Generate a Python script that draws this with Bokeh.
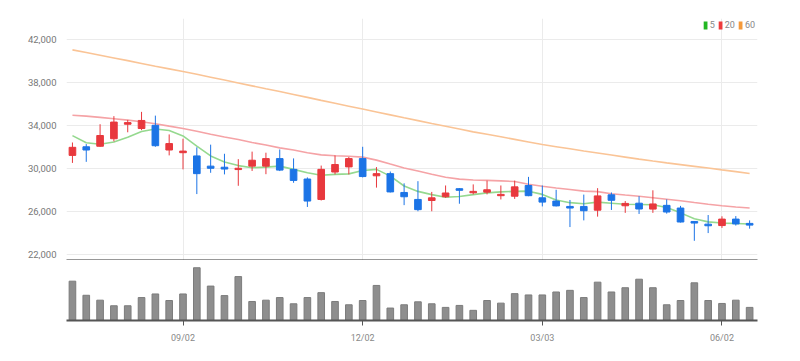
import pandas as pd
from bokeh.plotting import figure
from bokeh.models import (ColumnDataSource, FixedTicker, Range1d, Legend, LegendItem,
                          NumeralTickFormatter)
from bokeh.layouts import column
from bokeh.embed import file_html
from bokeh.resources import INLINE

# ---------------- data (weekly candles) ----------------
dates = pd.date_range("2024-07-08", periods=50, freq="W-MON")
tick_idx = [8, 21, 34, 47]
y_ticks = [22000, 26000, 30000, 34000, 38000, 42000]

open_ = [31250, 32050, 32100, 32800, 34150, 33750, 34050, 31750, 31500, 31200,
         30250, 30150, 29930, 30250, 30250, 30950, 29950, 29050, 27150, 29700,
         30180, 30950, 29350, 29550, 27800, 27150, 27050, 27400, 28150, 27770,
         27830, 27500, 27450, 28450, 27300, 27000, 26500, 26500, 26150, 27580,
         26560, 26800, 26250, 26600, 26350, 25100, 24850, 24720, 25320, 24920]
close = [32000, 31750, 33100, 34350, 34300, 34500, 32150, 32350, 31650, 29550,
         30050, 29980, 30050, 30800, 30950, 29880, 28920, 27000, 29950, 30400,
         30950, 29280, 29550, 27850, 27400, 26200, 27300, 27750, 28000, 27900,
         28050, 27620, 28320, 27500, 26900, 26550, 26350, 26100, 27480, 27070,
         26780, 26260, 26730, 25980, 25050, 24950, 24700, 25320, 24870, 24760]
high = [32450, 32300, 34150, 34900, 34550, 35300, 34950, 33200, 32800, 32000,
        32250, 31400, 30900, 31600, 31500, 31800, 30970, 29200, 30300, 31250,
        31100, 32050, 30160, 29750, 28650, 28850, 27850, 28450, 28200, 28550,
        28900, 28450, 28900, 29250, 28450, 28050, 27100, 27600, 28200, 27800,
        27000, 27450, 28000, 27150, 26550, 25120, 25700, 25580, 25600, 25200]
low = [30550, 30650, 32050, 32550, 33400, 33600, 32050, 31250, 29950, 27650,
       29630, 29480, 28420, 29800, 29500, 29790, 28700, 26450, 27050, 29480,
       29480, 29200, 28250, 27800, 26620, 26050, 26050, 27300, 26750, 27620,
       27620, 27150, 27200, 27450, 26500, 26500, 24580, 25200, 25550, 26170,
       25900, 25800, 25900, 25830, 25000, 23300, 24020, 24500, 24720, 24430]
volume = [120, 77, 62, 45, 45, 70, 81, 61, 81, 161,
          105, 76, 134, 58, 62, 70, 51, 70, 85, 58,
          48, 61, 107, 38, 48, 57, 51, 40, 46, 31,
          61, 53, 82, 78, 78, 87, 92, 70, 117, 87,
          100, 126, 100, 48, 61, 115, 61, 52, 62, 40]

ma5 = [33090, 32430, 32280, 32500, 32930, 33470, 33710, 33560, 33060, 32120,
       31200, 30640, 30300, 30100, 30160, 30250, 29950, 29630, 29400, 29480,
       29530, 29850, 29950, 29320, 28400, 27900, 27600, 27350, 27420, 27600,
       27760, 27850, 27900, 27920, 27620, 27100, 26850, 26750, 26900, 26800,
       26700, 26680, 26650, 26400, 25900, 25350, 25060, 24950, 24910, 24870]
ma20 = [34990, 34900, 34790, 34660, 34530, 34380, 34200, 33970, 33760, 33500,
        33220, 32960, 32730, 32450, 32210, 31950, 31750, 31490, 31300, 31220,
        31170, 31090, 30810, 30440, 30080, 29790, 29500, 29220, 29040, 28960,
        28920, 28880, 28820, 28570, 28380, 28220, 28080, 27920, 27880, 27680,
        27560, 27450, 27310, 27170, 27030, 26860, 26700, 26560, 26440, 26350]
ma60 = [41070, 40820, 40570, 40320, 40070, 39810, 39550, 39300, 39050, 38800,
        38530, 38260, 37990, 37720, 37450, 37190, 36920, 36650, 36370, 36100,
        35830, 35560, 35290, 35020, 34750, 34485, 34220, 33960, 33700, 33440,
        33210, 32980, 32740, 32500, 32260, 32060, 31860, 31660, 31470, 31280,
        31090, 30900, 30720, 30550, 30390, 30230, 30070, 29900, 29740, 29570]

# ---------------- styling ----------------
RED = "#e8383d"
BLUE = "#1c74e6"
FONT = "Roboto"

x = list(range(len(open_)))
colors = [RED if c >= o else BLUE for o, c in zip(open_, close)]
src = ColumnDataSource(dict(
    x=x, high=high, low=low,
    top=[max(o, c) for o, c in zip(open_, close)],
    bottom=[min(o, c) for o, c in zip(open_, close)],
    color=colors, vol=volume,
))

xr = Range1d(-0.43, 49.57)

p1 = figure(width=792, height=260, x_range=xr, y_range=Range1d(21467, 43990),
            output_backend="svg", toolbar_location=None,
            min_border_left=66, min_border_right=35, min_border_top=18, min_border_bottom=0)
p1.outline_line_color = None

p1.line(x, ma60, color="#fac496", line_width=1.6)
p1.line(x, ma20, color="#f5a3a6", line_width=1.6)
p1.line(x, ma5, color="#95d98f", line_width=1.6)

p1.segment(x0="x", y0="high", x1="x", y1="low", color="color", line_width=1, source=src)
p1.vbar(x="x", width=0.48, top="top", bottom="bottom", fill_color="color",
        line_color="color", line_width=1, source=src)

# legend swatches: hidden renderers carrying the MA series, used only for the key
sw5 = p1.vbar(x=x, top=ma5, bottom=ma5, width=0.5, fill_color="#22b722", line_color=None, visible=False)
sw20 = p1.vbar(x=x, top=ma20, bottom=ma20, width=0.5, fill_color="#ee3b3b", line_color=None, visible=False)
sw60 = p1.vbar(x=x, top=ma60, bottom=ma60, width=0.5, fill_color="#f59a3a", line_color=None, visible=False)
legend = Legend(items=[LegendItem(label="5", renderers=[sw5]),
                       LegendItem(label="20", renderers=[sw20]),
                       LegendItem(label="60", renderers=[sw60])],
                orientation="horizontal", location="top_right",
                label_text_font_size="9px", label_text_color="#888888",
                label_text_font=FONT, label_width=4,
                glyph_width=5, glyph_height=10, label_standoff=2, spacing=3,
                padding=0, margin=2, border_line_color=None,
                background_fill_alpha=0, label_height=10,
                inactive_fill_alpha=0, click_policy="none")
p1.add_layout(legend)

p1.yaxis.ticker = FixedTicker(ticks=y_ticks)
p1.yaxis.formatter = NumeralTickFormatter(format="0,0")
p1.yaxis.axis_line_color = None
p1.yaxis.major_tick_line_color = None
p1.yaxis.minor_tick_line_color = None
p1.yaxis.major_label_text_font_size = "9.5px"
p1.yaxis.major_label_text_color = "#777777"
p1.yaxis.major_label_text_font = FONT
p1.yaxis.major_label_standoff = 4
p1.ygrid.grid_line_color = "#ebebeb"
p1.xgrid.ticker = FixedTicker(ticks=tick_idx)
p1.xgrid.grid_line_color = "#ebebeb"

p1.xaxis.ticker = FixedTicker(ticks=[])
p1.xaxis.major_label_standoff = 0
p1.xaxis.major_tick_line_color = None
p1.xaxis.minor_tick_line_color = None
p1.xaxis.major_tick_out = 0
p1.xaxis.axis_line_color = "#333333"
p1.xaxis.axis_line_width = 2

p2 = figure(width=792, height=85, x_range=xr, y_range=Range1d(0, 177),
            output_backend="svg", toolbar_location=None,
            min_border_left=66, min_border_right=35, min_border_top=2, min_border_bottom=0)
p2.outline_line_color = None
p2.vbar(x="x", top="vol", width=0.48, fill_color="#8e8e8e", line_color="#7c7c7c",
        line_width=1, source=src)
p2.yaxis.visible = False
p2.ygrid.visible = False
p2.xgrid.visible = False
p2.xaxis.ticker = FixedTicker(ticks=tick_idx)
p2.xaxis.major_label_overrides = {i: dates[i].strftime("%m/%d") for i in tick_idx}
p2.xaxis.axis_line_color = "#555555"
p2.xaxis.axis_line_width = 2
p2.xaxis.major_tick_line_color = "#555555"
p2.xaxis.major_tick_out = 5
p2.xaxis.major_tick_in = 0
p2.xaxis.minor_tick_line_color = None
p2.xaxis.major_label_text_font_size = "9px"
p2.xaxis.major_label_text_color = "#888888"
p2.xaxis.major_label_text_font = FONT
p2.xaxis.major_label_standoff = 7

layout = column(p1, p2, spacing=0)
open("out.html", "w").write(file_html(layout, INLINE))
